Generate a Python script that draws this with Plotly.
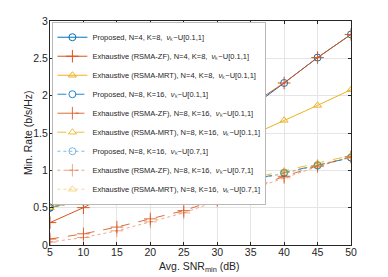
import plotly.graph_objects as go

snr = [5, 10, 15, 20, 25, 30, 35, 40, 45, 50]

prop_n4 = [0.50, 0.62, 0.65, 0.87, 1.17, 1.50, 1.84, 2.17, 2.51, 2.82]
zf_n4 = [0.30, 0.50, 0.74, 1.01, 1.29, 1.58, 1.88, 2.17, 2.51, 2.82]
mrt_n4 = [0.50, 0.62, 0.72, 0.87, 1.06, 1.26, 1.46, 1.67, 1.87, 2.08]

prop_n8a = [0.50, 0.60, 0.62, 0.63, 0.68, 0.77, 0.87, 0.97, 1.07, 1.17]
zf_n8a = [0.08, 0.15, 0.24, 0.35, 0.46, 0.61, 0.75, 0.92, 1.06, 1.18]
mrt_n8a = [0.50, 0.62, 0.62, 0.67, 0.71, 0.79, 0.89, 0.99, 1.09, 1.20]

prop_n8b = [0.50, 0.58, 0.61, 0.63, 0.67, 0.76, 0.86, 0.96, 1.06, 1.17]
zf_n8b = [0.04, 0.10, 0.19, 0.31, 0.43, 0.59, 0.74, 0.90, 1.05, 1.18]
mrt_n8b = [0.50, 0.58, 0.62, 0.64, 0.68, 0.76, 0.86, 0.97, 1.07, 1.18]

y_ticks = [0, 0.5, 1, 1.5, 2, 2.5, 3]
y_ticktext = ["0", "0.5", "1", "1.5", "2", "2.5", "3"]

nu = "<i>ν</i>ₖ"
names = [
    f"Proposed, N=4, K=8,  {nu}~U[0.1,1]",
    f"Exhaustive (RSMA-ZF), N=4, K=8,  {nu}~U[0.1,1]",
    f"Exhaustive (RSMA-MRT), N=4, K=8,  {nu}~U[0.1,1]",
    f"Proposed, N=8, K=16,  {nu}~U[0.1,1]",
    f"Exhaustive (RSMA-ZF), N=8, K=16,  {nu}~U[0.1,1]",
    f"Exhaustive (RSMA-MRT), N=8, K=16,  {nu}~U[0.1,1]",
    f"Proposed, N=8, K=16,  {nu}~U[0.7,1]",
    f"Exhaustive (RSMA-ZF), N=8, K=16,  {nu}~U[0.7,1]",
    f"Exhaustive (RSMA-MRT), N=8, K=16,  {nu}~U[0.7,1]",
]
series = [prop_n4, zf_n4, mrt_n4, prop_n8a, zf_n8a, mrt_n8a, prop_n8b, zf_n8b, mrt_n8b]

blue = "rgba(0,114,189,{a})"
red = "rgba(217,83,25,{a})"
yellow = "rgba(237,177,32,{a})"
cols = [blue, red, yellow] * 3
syms = ["circle-open", "cross-thin-open", "triangle-up-open"] * 3
dashes = ["solid"] * 3 + ["dash"] * 3 + ["dot"] * 3
alphas = [1.0] * 3 + [0.85] * 3 + [0.5] * 3

fig = go.Figure()
for i in range(9):
    c = cols[i].format(a=alphas[i])
    fig.add_trace(go.Scatter(
        x=snr, y=series[i], name=names[i], mode="lines+markers",
        line=dict(color=c, width=1, dash=dashes[i]),
        marker=dict(symbol=syms[i], size=7 if i % 3 != 1 else 9,
                    color=c, line=dict(color=c, width=1)),
    ))

axis_common = dict(
    showgrid=True, gridcolor="#E5E5E5", gridwidth=1,
    showline=True, linecolor="#262626", linewidth=1, mirror="allticks",
    ticks="inside", ticklen=3, tickcolor="#262626",
    tickfont=dict(size=10.5, color="#262626"), zeroline=False,
    automargin=False,
)

fig.update_layout(
    width=388, height=277,
    margin=dict(l=50, r=37, t=21, b=32),
    paper_bgcolor="white", plot_bgcolor="white",
    font=dict(family="Liberation Sans, Arial, sans-serif", color="#262626"),
    xaxis=dict(range=[5, 50], tickvals=snr, ticklabelstandoff=-3, **axis_common),
    yaxis=dict(range=[0, 3], tickvals=y_ticks, ticktext=y_ticktext,
               ticklabelstandoff=-1, **axis_common),
    legend=dict(x=0.006, y=0.995, xanchor="left", yanchor="top",
                bgcolor="white", bordercolor="#888888", borderwidth=0.6,
                font=dict(size=7.5, color="#262626"), itemwidth=30,
                tracegroupgap=0),
    showlegend=True,
    annotations=[
        dict(text="Avg. SNR<sub>min</sub> (dB)", xref="paper", yref="paper",
             x=0.498, y=-0.058, xanchor="center", yanchor="top", showarrow=False,
             font=dict(size=10.5, color="#262626")),
        dict(text="Min. Rate (b/s/Hz)", xref="paper", yref="paper",
             x=-0.073, y=0.5, xanchor="center", yanchor="middle", showarrow=False,
             textangle=-90, font=dict(size=10.5, color="#262626")),
    ],
)

fig.write_html(
    "out.html",
    config={"displayModeBar": False},
    post_script="document.body.style.margin='0';document.body.style.overflow='hidden';",
)
